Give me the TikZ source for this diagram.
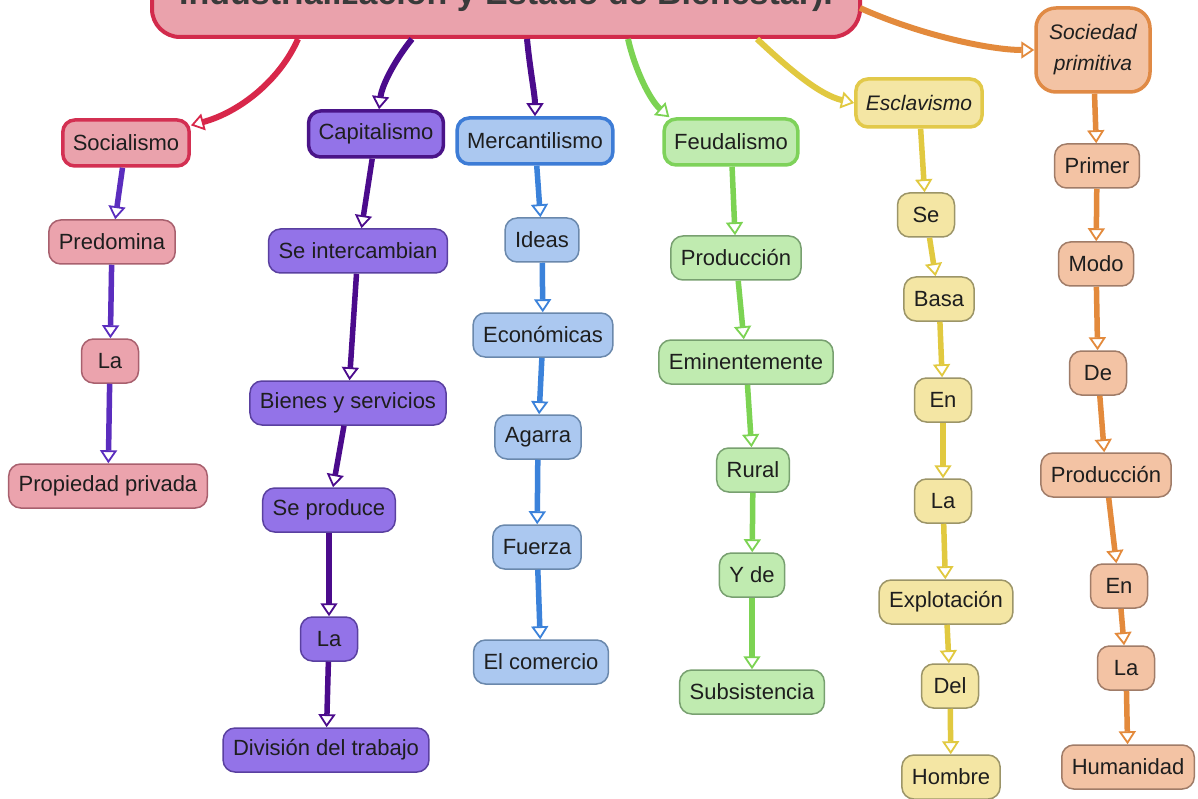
\documentclass[tikz,border=0pt]{standalone}
\usepackage{fontspec}
\setmainfont{Liberation Sans}
\usetikzlibrary{arrows.meta}
\definecolor{txt}{HTML}{1E1E1E}
\definecolor{titleF}{HTML}{EAA2AC}
\definecolor{titleD}{HTML}{D22B4C}
\definecolor{titleT}{HTML}{3A3A3A}
% pink
\definecolor{pinkF}{HTML}{EBA3AD}
\definecolor{pinkD}{HTML}{A8606E}
\definecolor{pinkH}{HTML}{D33052}
\definecolor{pinkL}{HTML}{5B2DBE}
\definecolor{redL}{HTML}{D8274A}
% purple
\definecolor{purF}{HTML}{9373E8}
\definecolor{purD}{HTML}{5A40A0}
\definecolor{purH}{HTML}{4A1488}
\definecolor{purL}{HTML}{4B0B8C}
% blue
\definecolor{bluF}{HTML}{ABC8F0}
\definecolor{bluD}{HTML}{6A88AC}
\definecolor{bluH}{HTML}{3D7CD6}
\definecolor{bluL}{HTML}{3B82DA}
% green
\definecolor{grnF}{HTML}{C0EBB0}
\definecolor{grnD}{HTML}{78A070}
\definecolor{grnH}{HTML}{7ED25A}
\definecolor{grnL}{HTML}{7CD353}
% yellow
\definecolor{yelF}{HTML}{F4E6A4}
\definecolor{yelD}{HTML}{9C9568}
\definecolor{yelH}{HTML}{E2C94A}
\definecolor{yelL}{HTML}{E1C940}
% orange
\definecolor{oraF}{HTML}{F3C3A4}
\definecolor{oraD}{HTML}{A07C68}
\definecolor{oraH}{HTML}{E08A45}
\definecolor{oraL}{HTML}{E38A3C}
\tikzset{
  box/.style={rounded corners=12pt, inner xsep=10pt, inner ysep=0pt,
    minimum height=44pt, minimum width=57pt, line width=1.5pt,
    font=\fontsize{22}{26}\selectfont, text=txt, align=center},
  head/.style={box, line width=3.5pt, minimum height=46pt},
  link/.style={line width=5.5pt, -{Triangle[fill=white, length=13pt, width=17pt, line width=1.8pt]}},
  toplink/.style={link, line width=6pt},
  pinkbox/.style={box, fill=pinkF, draw=pinkD},
  purbox/.style={box, fill=purF, draw=purD},
  blubox/.style={box, fill=bluF, draw=bluD},
  grnbox/.style={box, fill=grnF, draw=grnD},
  yelbox/.style={box, fill=yelF, draw=yelD},
  orabox/.style={box, fill=oraF, draw=oraD},
}
\begin{document}
\begin{tikzpicture}[x=1pt,y=-1pt]
\fill[white] (0,0) rectangle (1198,799);
\useasboundingbox (0,0) rectangle (1198,799);

% title
\node[draw=titleD, fill=titleF, line width=4pt, rounded corners=28pt,
  minimum width=708pt, inner sep=0pt, text height=50pt, text depth=32pt,
  anchor=base, font=\bfseries\fontsize{34}{40}\selectfont, text=titleT]
  (title) at (506,5) {Industrialización y Estado de Bienestar).};

% heads
\node[head, fill=titleF, draw=pinkH] (soc) at (126,143) {Socialismo};
\node[head, fill=purF, draw=purH] (cap) at (376,134) {Capitalismo};
\node[head, fill=bluF, draw=bluH] (mer) at (535,141) {Mercantilismo};
\node[head, fill=grnF, draw=grnH] (feu) at (731,142) {Feudalismo};
\node[head, fill=yelF, draw=yelH, font=\itshape\fontsize{21}{25}\selectfont, minimum height=48pt] (esc) at (919,103) {Esclavismo};
\node[head, fill=oraF, draw=oraH, font=\itshape\fontsize{21}{31}\selectfont, minimum height=84pt, minimum width=114pt, rounded corners=20pt] (pri) at (1093,50) {Sociedad\\primitiva};

% pink column
\node[pinkbox] (pre) at (112,242) {Predomina};
\node[pinkbox] (laA) at (110,361) {La};
\node[pinkbox] (prop) at (108,486) {Propiedad privada};
% purple column
\node[purbox] (sei) at (358,251) {Se intercambian};
\node[purbox] (bie) at (348,403) {Bienes y servicios};
\node[purbox] (sep) at (329,510) {Se produce};
\node[purbox] (laB) at (329,639) {La};
\node[purbox] (div) at (326,750) {División del trabajo};
% blue column
\node[blubox] (ide) at (542,240) {Ideas};
\node[blubox] (eco) at (543,335) {Económicas};
\node[blubox] (aga) at (538,437) {Agarra};
\node[blubox] (fue) at (537,547) {Fuerza};
\node[blubox] (com) at (541,662) {El comercio};
% green column
\node[grnbox] (prd) at (736,258) {Producción};
\node[grnbox] (emi) at (746,362) {Eminentemente};
\node[grnbox] (rur) at (753,470) {Rural};
\node[grnbox] (yde) at (752,575) {Y de};
\node[grnbox] (sub) at (752,692) {Subsistencia};
% yellow column
\node[yelbox] (se) at (926,215) {Se};
\node[yelbox] (bas) at (939,299) {Basa};
\node[yelbox] (enA) at (943,400) {En};
\node[yelbox] (laC) at (943,501) {La};
\node[yelbox] (exp) at (946,602) {Explotación};
\node[yelbox] (del) at (950,686) {Del};
\node[yelbox] (hom) at (951,777) {Hombre};
% orange column
\node[orabox] (pmr) at (1097,166) {Primer};
\node[orabox] (mod) at (1096,264) {Modo};
\node[orabox] (deA) at (1098,373) {De};
\node[orabox] (prB) at (1106,475) {Producción};
\node[orabox] (enB) at (1119,586) {En};
\node[orabox] (laD) at (1126,668) {La};
\node[orabox] (hum) at (1128,767) {Humanidad};

% top connectors
\coordinate (t1) at (298,39);
\coordinate (t2) at (412,39);
\coordinate (t3) at (527,39);
\coordinate (t4) at (628,39);
\coordinate (t5) at (757,39);
\coordinate (t6) at (860,8);
\draw[toplink, redL] (t1) .. controls (280,80) and (240,112) .. (soc);
\draw[toplink, purL] (t2) .. controls (395,60) and (382,85) .. (cap);
\draw[toplink, purL] (t3) .. controls (530,70) and (535,95) .. (mer);
\draw[toplink, grnL] (t4) .. controls (635,70) and (650,100) .. ([xshift=7pt]feu.north west);
\draw[toplink, yelL] (t5) .. controls (790,70) and (820,95) .. (esc.west);
\draw[toplink, oraL] (t6) .. controls (920,35) and (990,50) .. (pri.west);

% column connectors
\draw[link, pinkL] (soc) -- (pre);
\draw[link, pinkL] (pre) -- (laA);
\draw[link, pinkL] (laA) -- (prop);

\draw[link, purL] (cap) -- (sei);
\draw[link, purL] (sei) -- (bie);
\draw[link, purL] (bie) -- (sep);
\draw[link, purL] (sep) -- (laB);
\draw[link, purL] (laB) -- (div);

\draw[link, bluL] (mer) -- (ide);
\draw[link, bluL] (ide) -- (eco);
\draw[link, bluL] (eco) -- (aga);
\draw[link, bluL] (aga) -- (fue);
\draw[link, bluL] (fue) -- (com);

\draw[link, grnL] (feu) -- (prd);
\draw[link, grnL] (prd) -- (emi);
\draw[link, grnL] (emi) -- (rur);
\draw[link, grnL] (rur) -- (yde);
\draw[link, grnL] (yde) -- (sub);

\draw[link, yelL] (esc) -- (se);
\draw[link, yelL] (se) -- (bas);
\draw[link, yelL] (bas) -- (enA);
\draw[link, yelL] (enA) -- (laC);
\draw[link, yelL] (laC) -- (exp);
\draw[link, yelL] (exp) -- (del);
\draw[link, yelL] (del) -- (hom);

\draw[link, oraL] (pri) -- (pmr);
\draw[link, oraL] (pmr) -- (mod);
\draw[link, oraL] (mod) -- (deA);
\draw[link, oraL] (deA) -- (prB);
\draw[link, oraL] (prB) -- (enB);
\draw[link, oraL] (enB) -- (laD);
\draw[link, oraL] (laD) -- (hum);
\end{tikzpicture}
\end{document}
